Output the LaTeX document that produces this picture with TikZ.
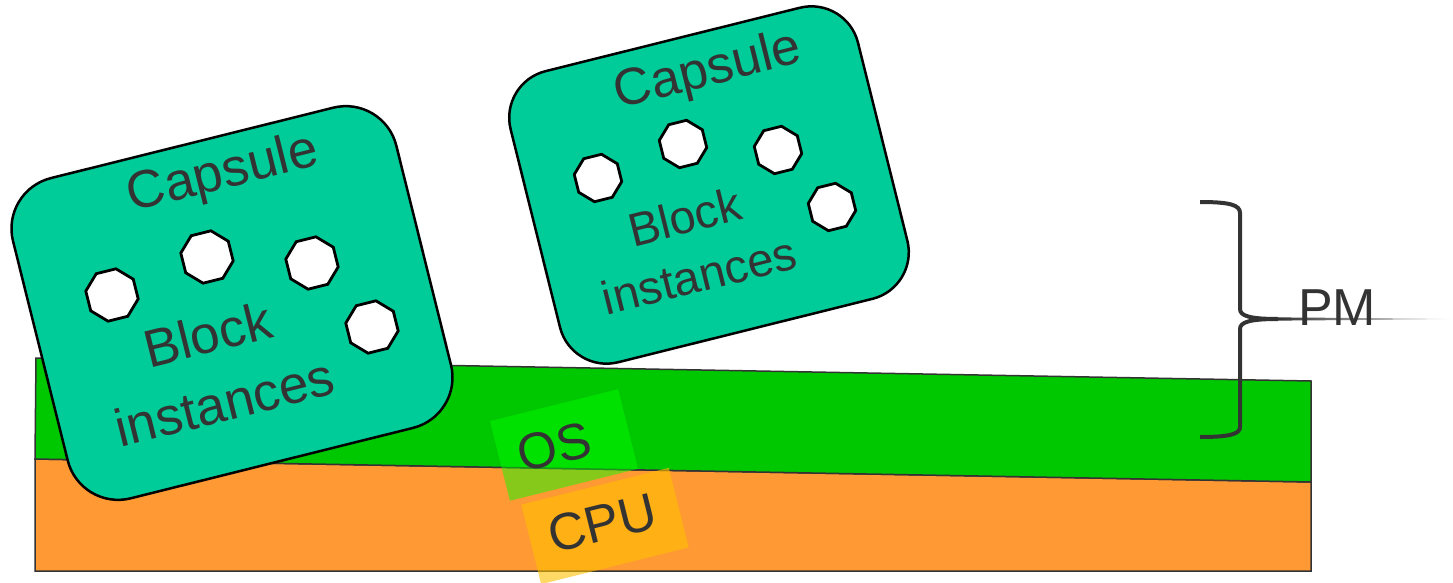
\documentclass[tikz,border=0pt]{standalone}
\usepackage{fontspec}
\setmainfont{Liberation Sans}
\usetikzlibrary{shapes.geometric}
\definecolor{capteal}{RGB}{0,204,153}
\definecolor{osgreen}{RGB}{0,200,0}
\definecolor{cpuorange}{RGB}{255,153,51}
\definecolor{oslight}{RGB}{0,255,0}
\definecolor{cpuyellow}{RGB}{255,192,0}
\definecolor{inkgray}{RGB}{51,51,51}
\begin{document}
\begin{tikzpicture}[x=1pt,y=-1pt,
  layer/.style={draw=inkgray, line width=1.5pt},
  capsule/.style={draw=black, line width=2.5pt, fill=capteal, rounded corners=52pt, rotate=14, inner sep=0pt},
  blockinst/.style={regular polygon, regular polygon sides=8, draw=black, line width=2.8pt, fill=white, inner sep=0pt, rotate=14},
  chip/.style={rotate=14, inner sep=0pt, draw=none},
  captext/.style={text=inkgray, rotate=14, inner sep=0pt, align=center}
]
\useasboundingbox (0,0) rectangle (1453,583);

%layers
\draw[layer, fill=cpuorange] (35,459) -- (1311,482) -- (1311,571) -- (35,571) -- cycle;
\draw[layer, fill=osgreen] (36,358) -- (1311,381) -- (1311,482) -- (35,459) -- cycle;

%OS / CPU chips
\node[chip, fill=oslight, fill opacity=0.47, minimum width=132pt, minimum height=82pt] (osbox) at (564,445) {};
\node[chip, fill=cpuyellow, fill opacity=0.6, minimum width=152pt, minimum height=82pt] (cpubox) at (605,526) {};
\node[captext, font=\fontsize{51}{60}\selectfont] (ostext) at (554,447) {OS};
\node[captext, font=\fontsize{52}{60}\selectfont] (cputext) at (602,523) {CPU};

%left capsule
\node[capsule, minimum width=395pt, minimum height=330pt] (capL) at (232,303) {};
\node[captext, font=\fontsize{53}{60}\selectfont] (capLname) at (223,175) {Capsule};
\node[captext, font=\fontsize{53}{70}\selectfont] (capLblocks) at (216,368) {Block\\instances};
\node[blockinst, minimum size=53pt] (bL1) at (112,295) {};
\node[blockinst, minimum size=53pt] (bL2) at (207,257) {};
\node[blockinst, minimum size=53pt] (bL3) at (312,263) {};
\node[blockinst, minimum size=53pt] (bL4) at (372,327) {};

%right capsule
\node[capsule, minimum width=358pt, minimum height=300pt, rounded corners=48pt] (capR) at (709,185) {};
\node[captext, font=\fontsize{52}{60}\selectfont] (capRname) at (708,72) {Capsule};
\node[captext, font=\fontsize{47}{60}\selectfont] (capRblocks) at (692,246) {Block\\instances};
\node[blockinst, minimum size=48pt] (bR1) at (598,178) {};
\node[blockinst, minimum size=48pt] (bR2) at (683,144) {};
\node[blockinst, minimum size=48pt] (bR3) at (778,150) {};
\node[blockinst, minimum size=48pt] (bR4) at (832,207) {};

%PM brace
\coordinate (brTip) at (1278,319);
\coordinate (lineEnd) at (1453,319);
\draw[inkgray, line width=4pt] (1200,202) .. controls (1230,202) and (1240,205) .. (1240,213) -- (1240,309)
  .. controls (1240,316) and (1250,319) .. (brTip)
  .. controls (1250,319) and (1240,322) .. (1240,329) -- (1240,427)
  .. controls (1240,434) and (1230,437) .. (1200,437);
\shade[left color=inkgray, right color=white] ([yshift=-1.6pt]brTip) -- ([yshift=-0.3pt]lineEnd) -- ([yshift=0.3pt]lineEnd) -- ([yshift=1.6pt]brTip) -- cycle;
\node[text=inkgray, inner sep=0pt, font=\fontsize{52}{60}\selectfont] (pm) at (1337,308) {PM};

\end{tikzpicture}
\end{document}
